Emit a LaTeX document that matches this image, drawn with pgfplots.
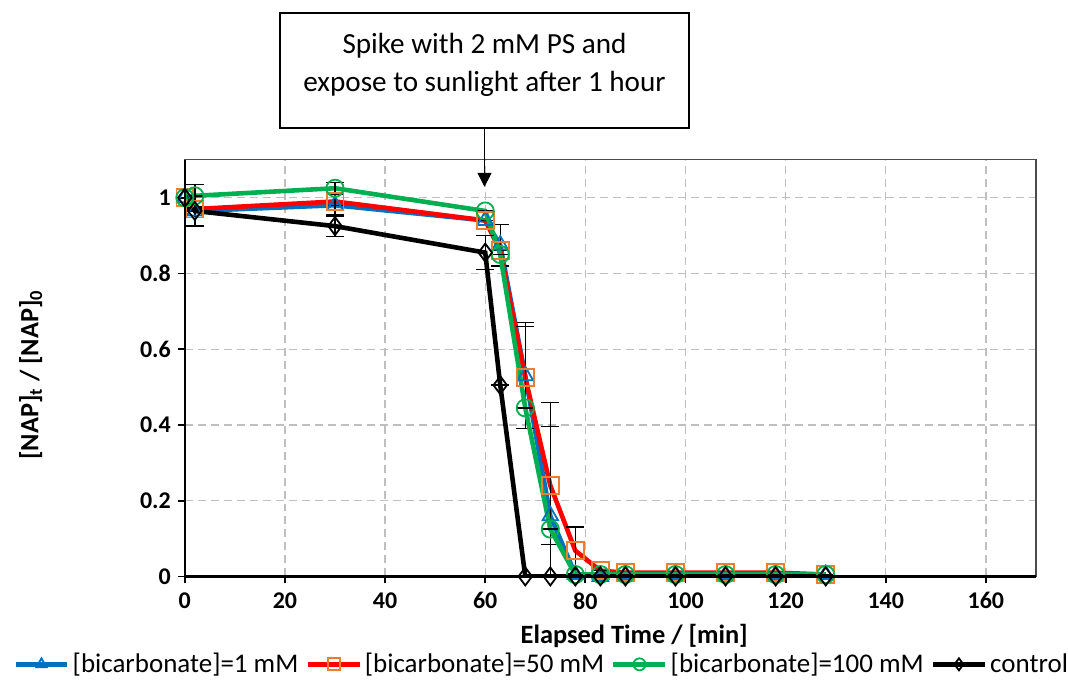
\documentclass[border=0pt]{standalone}
\usepackage{fontspec}
\setmainfont{Carlito}
\usepackage{pgfplots}
\pgfplotsset{compat=1.18}
\usetikzlibrary{arrows.meta}
\definecolor{cblue}{HTML}{0070C0}
\definecolor{cred}{HTML}{FF0000}
\definecolor{corange}{HTML}{ED7D31}
\definecolor{cgreen}{HTML}{00B050}
\definecolor{cgrid}{HTML}{BFBFBF}
\begin{document}
\begin{tikzpicture}
\begin{axis}[
  name=ax, at={(0,0)}, anchor=south west,
  scale only axis, width=426pt, height=208.5pt,
  xmin=0, xmax=170, ymin=0, ymax=1.1,
  xtick={0,20,...,160}, ytick={0,0.2,0.4,0.6,0.8,1},
  grid=major, major grid style={cgrid, line width=0.7pt, dash pattern=on 4pt off 2.5pt},
  axis line style={draw=black!70, line width=0.6pt},
  xtick pos=bottom, ytick pos=left,
  tick align=outside, major tick length=3.5pt,
  tick style={black, line width=0.9pt},
  /pgf/number format/assume math mode=true,
  tick label style={font=\bfseries\fontsize{12}{14}\selectfont},
  xticklabel style={yshift=-1pt},
  xlabel={\textbf{Elapsed Time / [min]}},
  ylabel={\textbf{[NAP]\textsubscript{t} / [NAP]\textsubscript{0}}},
  label style={font=\fontsize{13.2}{15}\selectfont},
  xlabel style={at={(axis description cs:0.528,-0.144)}, anchor=center},
  ylabel style={at={(axis description cs:-0.181,0.484)}, anchor=center},
  legend columns=4,
  legend image code/.code={\draw[mark repeat=2,mark phase=2,#1] plot coordinates {(0pt,0pt) (13pt,0pt) (26pt,0pt)};},
  legend image post style={mark size=3pt, every mark/.append style={fill=white}},
  legend style={at={(axis description cs:0.418,-0.211)}, anchor=center, draw=none, fill=none,
    font=\fontsize{13.5}{15}\selectfont, inner sep=0pt,
    nodes={inner sep=0pt},
    /tikz/every even column/.append style={column sep=3.5pt},
    /tikz/every odd column/.append style={column sep=1.5pt}},
  legend cell align=left,
  error bars/y dir=both, error bars/y explicit,
  error bars/error bar style={black, line width=0.7pt},
  error bars/error mark options={rotate=90, mark size=4.5pt, black, line width=0.7pt},
]
\addplot[cblue, line width=2.3pt, mark=triangle, mark size=4.5pt,
  mark options={draw=cblue, fill=none, line width=0.9pt, solid}]
  table[x=t, y=v, y error=e] {
t v e
0 1 0
2 0.965 0
30 0.98 0
60 0.94 0
63 0.875 0.055
68 0.53 0.14
73 0.16 0.30
78 0.005 0
83 0.0 0
88 0.005 0
98 0.005 0
108 0.005 0
118 0.005 0
128 0.005 0
};
\addlegendentry{[bicarbonate]=1 mM}
\addplot[cred, line width=2.3pt, mark=square, mark size=4.2pt,
  mark options={draw=corange, fill=none, line width=0.9pt, solid}]
  table[x=t, y=v, y error=e] {
t v e
0 1 0
2 0.97 0
30 0.99 0.035
60 0.94 0
63 0.86 0
68 0.525 0.135
73 0.24 0.156
78 0.068 0.062
83 0.015 0
88 0.01 0
98 0.01 0
108 0.01 0
118 0.01 0
128 0.005 0
};
\addlegendentry{[bicarbonate]=50 mM}
\addplot[cgreen, line width=2.3pt, mark=o, mark size=4.3pt,
  mark options={draw=cgreen, fill=none, line width=0.9pt, solid}]
  table[x=t, y=v, y error=e] {
t v e
0 1 0
2 1.005 0.03
30 1.025 0.015
60 0.965 0
63 0.85 0
68 0.445 0
73 0.125 0
78 0.005 0
83 0.005 0
88 0.005 0
98 0.005 0
108 0.005 0
118 0.005 0
128 0.005 0
};
\addlegendentry{[bicarbonate]=100 mM}
\addplot[black, line width=2.3pt, mark=diamond, mark size=4.5pt,
  mark options={draw=black, fill=none, line width=0.9pt, solid}]
  table[x=t, y=v, y error=e] {
t v e
0 1 0
2 0.965 0.04
30 0.925 0.027
60 0.855 0.045
63 0.505 0
68 0 0
73 0 0
78 0 0
83 0 0
88 0 0
98 0 0
108 0 0
118 0 0
128 0 0
};
\addlegendentry{control}
\end{axis}
\draw[black, line width=1.3pt] (ax.north west) -- (ax.south west) -- (ax.south east);
\draw[black, line width=0.9pt] (47.5pt,224.5pt) rectangle (252.5pt,282pt);
\node[align=center, font=\fontsize{14.6}{19}\selectfont] at (150pt,256pt)
  {Spike with 2 mM PS and\\expose to sunlight after 1 hour};
\draw[black, line width=0.7pt, -{Triangle[width=7pt,length=7pt]}] (150pt,224.5pt) -- (150pt,195pt);
\path (-92.5pt,-54pt) rectangle (441.5pt,288.5pt);
\end{tikzpicture}
\end{document}
